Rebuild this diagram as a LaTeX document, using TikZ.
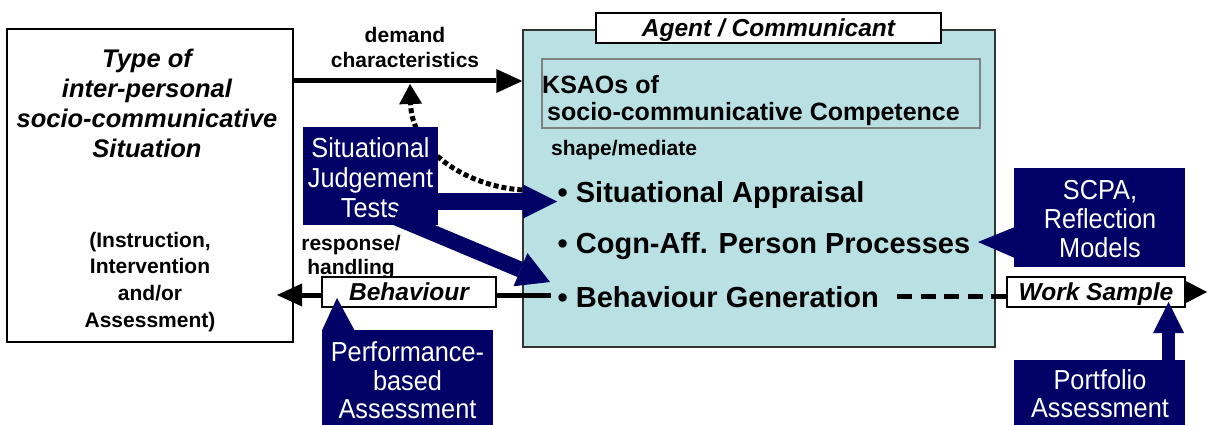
\documentclass[tikz,border=0pt]{standalone}
\usepackage{fontspec}
\setmainfont{Liberation Sans}
\newfontfamily\boxfont[FakeStretch=0.92]{Liberation Sans}
\usetikzlibrary{arrows.meta}
\definecolor{navy}{RGB}{0,0,102}
\definecolor{agentfill}{HTML}{B9E0E3}
\definecolor{frame}{HTML}{333333}

\begin{document}
\begin{tikzpicture}[x=1pt,y=-1pt,
  frm/.style={draw, line width=1.3pt, inner sep=0pt},
  wbox/.style={frm, fill=white},
  navybox/.style={fill=navy, draw=none, inner sep=0pt},
  navytext/.style={text=white, align=center, inner sep=0pt,
    font=\boxfont\fontsize{27.5}{29}\selectfont},
  lbl/.style={inner sep=0pt, align=center, font=\bfseries\fontsize{21}{24}\selectfont},
  item/.style={inner sep=0pt, anchor=base west, font=\bfseries\fontsize{29}{34}\selectfont},
  boxlabel/.style={text height=17.5pt, text depth=0pt,
    font=\bfseries\itshape\fontsize{24.5}{28}\selectfont},
  blackline/.style={line width=5pt},
  blackarrow/.style={line width=5pt, -{Triangle[length=26pt,width=24pt,line width=0pt]}},
  navyarrow/.style={draw=navy, -{Triangle[length=34pt,width=34pt,line width=0pt]}},
  dotarrow/.style={line width=5pt, dash pattern=on 5pt off 3pt,
    -{Triangle[length=20pt,width=23pt,line width=0pt]}},
  dashline/.style={line width=5pt, dash pattern=on 15pt off 8.5pt}
]
\useasboundingbox (0,0) rectangle (1208,425);

% ---------- situation box ----------
\node[frm, fill=white, minimum width=286pt, minimum height=313pt] (sit) at (150,185.5) {};
\node[inner sep=0pt, align=center, font=\bfseries\itshape\fontsize{25.5}{30}\selectfont]
  (sitTitle) at (147,106.3)
  {\strut Type of\\\strut inter-personal\\\strut socio-communicative\\\strut Situation};
\node[inner sep=0pt, align=center, font=\bfseries\fontsize{21}{26.7}\selectfont]
  (sitNote) at (150,282)
  {\strut (Instruction,\\\strut Intervention\\\strut and/or\\\strut Assessment)};

% ---------- agent box ----------
\node[draw=frame, line width=1.5pt, fill=agentfill, inner sep=0pt,
      minimum width=472pt, minimum height=317pt] (agent) at (759,188.5) {};
\node[wbox, boxlabel, minimum width=345pt, minimum height=30pt] (agentLbl) at (768.5,28)
  {Agent / Communicant};
\node[draw=gray, line width=1.3pt, inner sep=0pt, minimum width=438pt, minimum height=69pt]
  (ksao) at (761,93.5) {};
\node[anchor=west, inner sep=0pt, align=left, font=\bfseries\fontsize{25}{25}\selectfont]
  (ksaoText) at (542,101.4)
  {\strut KSAOs of\\\strut\hspace*{5pt}socio-communicative Competence};
\node[inner sep=0pt, anchor=base west, font=\bfseries\fontsize{21}{24}\selectfont]
  (shape) at (551,155.5) {shape/mediate};
\node[item] (sa)  at (557.5,202) {• Situational Appraisal};
\node[item] (cap) at (557.5,253) {• Cogn-Aff. Person Processes};
\node[item] (bg)  at (557.5,307) {• Behaviour Generation};

% ---------- labels on the left connectors ----------
\node[lbl, font=\bfseries\fontsize{21}{25}\selectfont] (demand) at (405,50)
  {\strut demand\\\strut characteristics};
\node[lbl] (resp) at (351,257.7) {\strut response/\\\strut handling};

% ---------- behaviour and work sample ----------
\node[wbox, boxlabel, minimum width=174pt, minimum height=30pt] (beh) at (409,292) {Behaviour};
\node[wbox, boxlabel, minimum width=178pt, minimum height=30pt] (ws) at (1096,292) {Work Sample};

% ---------- connectors in black ----------
\coordinate (yDem) at (0,81);
\coordinate (yBeh) at (0,295);
\coordinate (sitTip) at (277,295);
\coordinate (bgStart) at (551,295);
\coordinate (dashStart) at (897,296);
\coordinate (wsTip) at (1207,292);
\coordinate (dotEnd) at (410,84);

\draw[blackarrow] (sit.east |- yDem) -- (agent.west |- yDem);
\draw[dotarrow] (agent.west |- 0,190) .. controls (465,186) and (412,150) .. (dotEnd);
\draw[blackarrow, -{Triangle[length=25pt,width=23pt,line width=0pt]}] (beh.west |- yBeh) -- (sitTip);
\draw[blackline] (beh.east |- yBeh) -- (bgStart);
\draw[dashline] (dashStart) -- (ws.west |- dashStart);
\draw[line width=4pt, -{Triangle[length=22pt,width=23pt,line width=0pt]}] (ws.east) -- (wsTip);

% ---------- assessment methods ----------
\node[navybox, minimum width=135pt, minimum height=98pt] (sjt) at (370.5,176) {};
\node[navytext, font=\boxfont\fontsize{27.5}{30}\selectfont] (sjtText) at (370.5,181.8)
  {\strut Situational\\\strut Judgement\\\strut Tests};

\node[navybox, minimum width=171pt, minimum height=99pt] (scpa) at (1099.5,217.5) {};
\node[navytext] (scpaText) at (1100,223) {\strut SCPA,\\\strut Reflection\\\strut Models};

\node[navybox, minimum width=171pt, minimum height=95pt] (perf) at (407.5,377.5) {};
\node[navytext, font=\boxfont\fontsize{27.5}{28}\selectfont] (perfText) at (407.5,384.2)
  {\strut Performance-\\\strut based\\\strut Assessment};

\node[navybox, minimum width=171pt, minimum height=65pt] (port) at (1099.5,392.5) {};
\node[navytext, font=\boxfont\fontsize{27.5}{28}\selectfont] (portText) at (1100,398.2)
  {\strut Portfolio\\\strut Assessment};

% ---------- navy connectors ----------
\coordinate (saTip) at (557,201.5);
\coordinate (sjtOut) at (395,217);
\coordinate (bgTip) at (550,282);
\coordinate (scpaTip) at (978,242);
\coordinate (perfTip) at (337,298);
\coordinate (portTip) at (1168.5,302);

\draw[navyarrow, line width=17pt] ([xshift=-3pt]sjt.east |- saTip) -- (saTip);
\draw[navyarrow, line width=16pt, -{Triangle[length=32pt,width=36pt,line width=0pt]}]
  (sjtOut) -- (bgTip);
\fill[navy] ([xshift=1pt]scpa.west |- 0,227) -- (scpaTip) -- ([xshift=1pt]scpa.west |- 0,258) -- cycle;
\fill[navy] ([yshift=-1pt]perf.north west) -- (perfTip) -- ([xshift=33pt,yshift=-1pt]perf.north west) -- cycle;
\draw[navyarrow, line width=13pt, -{Triangle[length=31pt,width=31pt,line width=0pt]}]
  ([yshift=-1pt]port.north -| portTip) -- (portTip);
\end{tikzpicture}
\end{document}
